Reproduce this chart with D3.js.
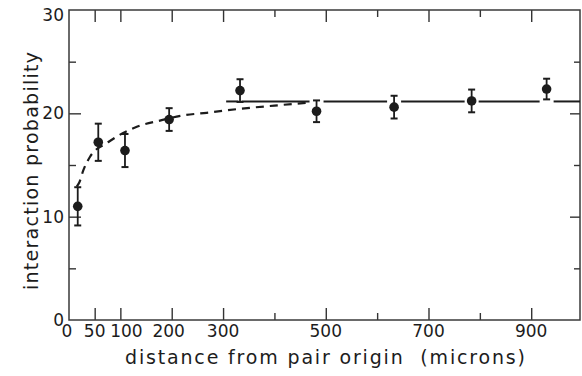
<!DOCTYPE html>
<html>
<head>
<meta charset="utf-8">
<script src="https://cdn.jsdelivr.net/npm/d3@7"></script>
<style>
  html, body { margin: 0; padding: 0; background: #fff; }
  svg { display: block; }
  text { font-family: "DejaVu Sans", sans-serif; fill: #1c1c1c; }
</style>
</head>
<body>
<svg id="chart" width="582" height="376"></svg>
<script>
// Measured interaction probability vs. distance from the pair origin
const distance    = [17, 57, 109, 195, 333, 482, 633, 784, 930];
const probability = [11.0, 17.2, 16.4, 19.4, 22.2, 20.2, 20.6, 21.2, 22.35];
const errorBar    = [1.85, 1.8, 1.6, 1.1, 1.1, 1.05, 1.1, 1.1, 1.0];

// Fitted rise (dashed)
const fitDistance    = [15, 20, 28, 41, 76, 132, 177, 222, 268, 326, 400, 470];
const fitProbability = [12.9, 13.3, 14.5, 15.8, 17.2, 18.7, 19.3, 19.8, 20.05, 20.4, 20.75, 21.05];

// Plateau level (solid line) and where it starts
const plateauLevel = 21.15;
const plateauFrom  = 306;
const plateauTo    = 995;

// Axis ticks and labels
const xMajorTicks = [50, 100, 200, 300, 500, 700, 900];
const xMinorTicks = [400, 600, 800];
const xTickLabels = [0, 50, 100, 200, 300, 500, 700, 900];
const yMajorTicks = [10, 20];
const yMinorTicks = [5, 15, 25];
const yTickLabels = [0, 10, 20, 30];

const xTitle = "distance from pair origin  (microns)";
const yTitle = "interaction probability";

const svg = d3.select("#chart");
const ink = "#1c1c1c";

const x = d3.scaleLinear().domain([0, 995]).range([69, 580]);
const y = d3.scaleLinear().domain([0, 30]).range([320, 10]);

const [x0, x1] = x.range();
const [y0, y1] = y.range();

// Inward ticks on all four sides
function ticks(axisFn, scale, values, size, transform) {
  const g = svg.append("g")
    .attr("transform", transform)
    .call(axisFn(scale).tickValues(values).tickSize(size).tickSizeOuter(0).tickFormat(""));
  g.select(".domain").remove();
  g.selectAll(".tick line").attr("stroke", "#333").attr("stroke-width", 1.4);
}
ticks(d3.axisBottom, x, xMajorTicks, -12, `translate(0,${y0})`);
ticks(d3.axisBottom, x, xMinorTicks, -7, `translate(0,${y0})`);
ticks(d3.axisTop, x, xMajorTicks, -12, `translate(0,${y1})`);
ticks(d3.axisTop, x, xMinorTicks, -7, `translate(0,${y1})`);
ticks(d3.axisLeft, y, yMajorTicks, -12, `translate(${x0},0)`);
ticks(d3.axisLeft, y, yMinorTicks, -7, `translate(${x0},0)`);
ticks(d3.axisRight, y, yMajorTicks, -10, `translate(${x1},0)`);
ticks(d3.axisRight, y, yMinorTicks, -6, `translate(${x1},0)`);

// Frame
svg.append("rect")
  .attr("x", x0).attr("y", y1)
  .attr("width", x1 - x0).attr("height", y0 - y1)
  .attr("fill", "none").attr("stroke", "#3a3a3a").attr("stroke-width", 1.5);

// Tick labels (crowded ones nudged apart)
const labelNudge = { 100: 6, 200: -3 };
svg.append("g").selectAll("text").data(xTickLabels).join("text")
  .attr("x", d => x(d) + (labelNudge[d] || 0) - (d === 0 ? 2 : 0))
  .attr("y", 337)
  .attr("text-anchor", "middle")
  .attr("font-size", 17)
  .text(d => d);

svg.append("g").selectAll("text").data(yTickLabels).join("text")
  .attr("x", 64)
  .attr("y", d => y(d) + (d === 30 ? 11 : 6))
  .attr("text-anchor", "end")
  .attr("font-size", 17)
  .text(d => d);

// Axis titles
svg.append("text")
  .attr("x", 325).attr("y", 364)
  .attr("text-anchor", "middle")
  .attr("font-size", 19)
  .attr("textLength", 400).attr("lengthAdjust", "spacing")
  .style("white-space", "pre")
  .text(xTitle);

svg.append("text")
  .attr("transform", "translate(38,171) rotate(-90)")
  .attr("text-anchor", "middle")
  .attr("font-size", 19)
  .attr("textLength", 238).attr("lengthAdjust", "spacing")
  .text(yTitle);

// Dashed fitted rise
const fitLine = d3.line()
  .x((d, i) => x(fitDistance[i]))
  .y(d => y(d))
  .curve(d3.curveMonotoneX);
svg.append("path")
  .attr("d", fitLine(fitProbability))
  .attr("fill", "none")
  .attr("stroke", ink).attr("stroke-width", 2.2)
  .attr("stroke-dasharray", "8,6");

// Plateau line, broken where it passes the data points
const gaps = distance
  .map((d, i) => ({ c: x(d), h: d >= 400 ? 7 : 1.5 }))
  .filter(g => g.c > x(plateauFrom) && g.c < x(plateauTo));
const segs = [];
let start = x(plateauFrom);
gaps.forEach(g => { segs.push([start, g.c - g.h]); start = g.c + g.h; });
segs.push([start, x(plateauTo)]);
svg.append("g").selectAll("line").data(segs).join("line")
  .attr("x1", d => d[0]).attr("x2", d => d[1])
  .attr("y1", y(plateauLevel)).attr("y2", y(plateauLevel))
  .attr("stroke", ink).attr("stroke-width", 2);

// Error bars and markers
const pts = distance.map((d, i) => ({ d, p: probability[i], e: errorBar[i] }));
const eb = svg.append("g").attr("stroke", ink);
eb.selectAll("line.v").data(pts).join("line").attr("class", "v")
  .attr("x1", d => x(d.d)).attr("x2", d => x(d.d))
  .attr("y1", d => y(d.p - d.e)).attr("y2", d => y(d.p + d.e))
  .attr("stroke-width", 1.8);
eb.selectAll("line.t").data(pts).join("line").attr("class", "t")
  .attr("x1", d => x(d.d) - 3.5).attr("x2", d => x(d.d) + 3.5)
  .attr("y1", d => y(d.p + d.e)).attr("y2", d => y(d.p + d.e))
  .attr("stroke-width", 2);
eb.selectAll("line.b").data(pts).join("line").attr("class", "b")
  .attr("x1", d => x(d.d) - 3.5).attr("x2", d => x(d.d) + 3.5)
  .attr("y1", d => y(d.p - d.e)).attr("y2", d => y(d.p - d.e))
  .attr("stroke-width", 2);

svg.append("g").selectAll("circle").data(pts).join("circle")
  .attr("cx", d => x(d.d)).attr("cy", d => y(d.p))
  .attr("r", 4.8)
  .attr("fill", ink);
</script>
</body>
</html>
